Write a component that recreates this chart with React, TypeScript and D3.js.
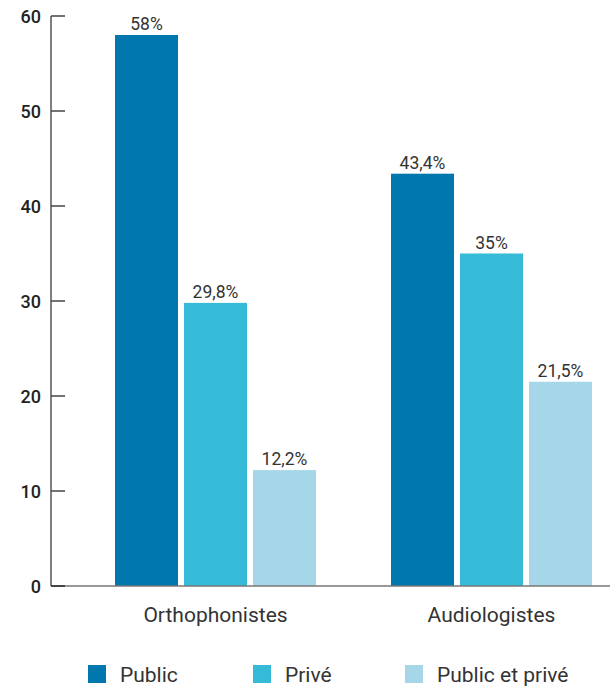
import React from "react";
import * as d3 from "d3";

const categories = ["Orthophonistes", "Audiologistes"];
const seriesNames = ["Public", "Privé", "Public et privé"];
const seriesColors = ["#0077ad", "#35bad8", "#a5d7e8"];
const publicValues = [58, 43.4];
const priveValues = [29.8, 35];
const bothValues = [12.2, 21.5];
const valueLabels = [["58%", "43,4%"], ["29,8%", "35%"], ["12,2%", "21,5%"]];
const yTicks = [0, 10, 20, 30, 40, 50, 60];

export default function App() {
  const W = 610, H = 688;
  const series = [publicValues, priveValues, bothValues];
  const y = d3.scaleLinear().domain([0, 60]).range([586, 16]);
  const groupStart = d3.scalePoint().domain(categories).range([115, 391]);
  const x1 = d3.scaleBand().domain(seriesNames).range([0, 201]).paddingInner(0.087);
  const font = "Roboto, 'DejaVu Sans', sans-serif";
  const legendX = [88, 253, 405];
  return (
    <svg width={W} height={H} style={{ position: "absolute", left: 0, top: 0 }} fontFamily={font}>
      <rect width={W} height={H} fill="#fff" />
      {categories.map((c, ci) => {
        const gx = groupStart(c)!;
        return (
          <g key={c}>
            {seriesNames.map((s, si) => {
              const v = series[si][ci];
              const bx = gx + x1(s)!;
              return (
                <g key={s}>
                  <rect x={bx} y={y(v)} width={x1.bandwidth()} height={y(0) - y(v)} fill={seriesColors[si]} />
                  <text x={bx + x1.bandwidth() / 2} y={y(v) - 5} textAnchor="middle" fontSize={17.5} fill="#333">
                    {valueLabels[si][ci]}
                  </text>
                </g>
              );
            })}
            <text x={gx + 100.5} y={622} textAnchor="middle" fontSize={21} fill="#333">{c}</text>
          </g>
        );
      })}
      <line x1={51} x2={610} y1={y(0)} y2={y(0)} stroke="#777" strokeWidth={1.5} />
      <line x1={51} x2={51} y1={y(60)} y2={y(0)} stroke="#555" strokeWidth={1.5} />
      {yTicks.map((t) => (
        <g key={t}>
          <line x1={51} x2={65} y1={y(t)} y2={y(t)} stroke="#444" strokeWidth={t === 0 ? 2 : 1.5} />
          <text x={41} y={y(t) + 6.5} textAnchor="end" fontSize={18} fontWeight={500} fill="#222">{t}</text>
        </g>
      ))}
      {seriesNames.map((s, i) => (
        <g key={s}>
          <rect x={legendX[i]} y={665} width={18} height={18} fill={seriesColors[i]} />
          <text x={legendX[i] + 32} y={682} fontSize={21} fill="#333">{s}</text>
        </g>
      ))}
    </svg>
  );
}
